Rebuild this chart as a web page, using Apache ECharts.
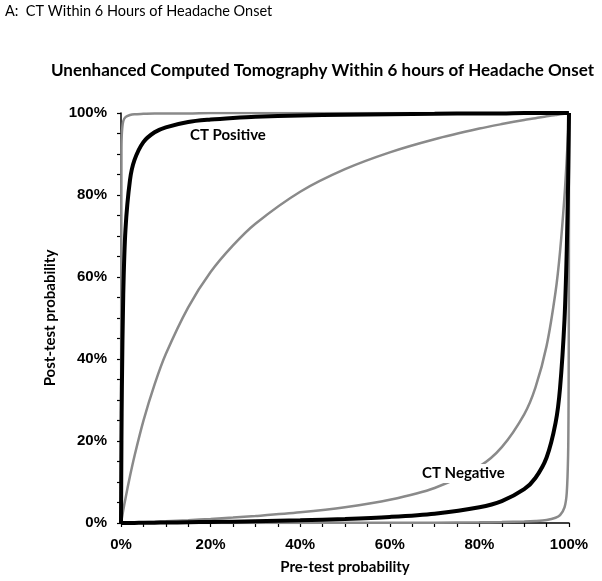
<!DOCTYPE html>
<html><head><meta charset="utf-8">
<script src="https://cdn.jsdelivr.net/npm/echarts@6/dist/echarts.min.js"></script>
<style>html,body{margin:0;padding:0;background:#fff}#c{width:602px;height:581px}</style>
</head><body><div id="c"></div>
<script>
// Pre-test probability (%) sample points
const preTest = [0, 0.1, 0.2, 0.5, 1, 2, 3, 5, 7.5, 10, 15, 20, 25, 30, 40, 50, 60, 70, 80, 85, 90, 92.5, 95, 97, 98, 99, 99.5, 99.8, 99.9, 99.95, 99.98, 100];
// Post-test probability (%)
const posUpperGray = [0, 90.9, 95.2, 98.0, 99.0, 99.5, 99.7, 99.8, 99.9, 99.9, 99.9, 100, 100, 100, 100, 100, 100, 100, 100, 100, 100, 100, 100, 100, 100, 100, 100, 100, 100, 100, 100, 100];
const ctPositive = [0, 20.0, 33.4, 55.7, 71.6, 83.6, 88.5, 92.9, 95.3, 96.5, 97.8, 98.4, 98.8, 99.1, 99.4, 99.6, 99.7, 99.8, 99.9, 99.9, 100, 100, 100, 100, 100, 100, 100, 100, 100, 100, 100, 100];
const posLowerGray = [0, 0.6, 1.2, 3.1, 6.0, 11.4, 16.3, 24.9, 33.8, 41.2, 52.6, 61.2, 67.7, 73.0, 80.8, 86.3, 90.4, 93.6, 96.2, 97.3, 98.3, 98.7, 99.2, 99.5, 99.7, 99.8, 99.9, 100, 100, 100, 100, 100];
const ctNegative = [0, 0, 0, 0.01, 0.01, 0.02, 0.03, 0.05, 0.08, 0.11, 0.18, 0.25, 0.33, 0.43, 0.66, 0.99, 1.48, 2.28, 3.85, 5.36, 8.26, 10.98, 15.97, 24.4, 32.9, 49.7, 66.6, 83.3, 90.9, 95.2, 98.0, 100];
const negUpperGray = [0, 0, 0.01, 0.02, 0.04, 0.08, 0.12, 0.21, 0.32, 0.44, 0.70, 0.99, 1.32, 1.69, 2.60, 3.85, 5.66, 8.54, 13.8, 18.5, 26.5, 33.0, 43.2, 56.4, 66.2, 79.8, 88.8, 95.2, 97.6, 98.8, 99.5, 100];
const negLowerGray = [0, 0, 0, 0, 0, 0, 0, 0, 0, 0, 0, 0.01, 0.01, 0.02, 0.03, 0.04, 0.06, 0.09, 0.16, 0.23, 0.36, 0.49, 0.75, 1.28, 1.92, 3.81, 7.37, 16.6, 28.6, 44.4, 66.7, 100];
const tickLabels = [0, 20, 40, 60, 80, 100];

const pairs = arr => preTest.map((x, i) => [x, arr[i]]);
const gray = '#8a8a8a';
const tickFmt = v => tickLabels.indexOf(v) >= 0 ? v + '%' : '';
const calibri = 'Lato, "Open Sans", sans-serif';
const axisCommon = {
  type: 'value', min: 0, max: 100, interval: 5,
  splitLine: { show: false },
  axisLine: { show: true, lineStyle: { color: '#000', width: 1.5 } },
  axisTick: { show: true, length: 4, lineStyle: { color: '#000', width: 1.2 } },
  axisLabel: { formatter: tickFmt, color: '#000', fontFamily: '"Liberation Sans", Arial, sans-serif', fontWeight: 'bold', fontSize: 15, showMinLabel: true, showMaxLabel: true },
  nameTextStyle: { color: '#000', fontFamily: calibri, fontWeight: 'bold', fontSize: 15 }
};
const line = (name, arr, color, w) => ({ name, type: 'line', data: pairs(arr), symbol: 'none', clip: true,
  smooth: 0.3,
  lineStyle: { color, width: w }, itemStyle: { color }, z: color === '#000' ? 3 : 2 });

const chart = echarts.init(document.getElementById('c'), null, { renderer: 'canvas' });
chart.setOption({
  animation: false,
  backgroundColor: '#fff',
  grid: { left: 121, right: 33, top: 113, bottom: 58 },
  xAxis: Object.assign({}, axisCommon, { name: 'Pre-test probability', nameLocation: 'middle', nameGap: 37,
    axisLabel: Object.assign({}, axisCommon.axisLabel, { margin: 14 }) }),
  yAxis: Object.assign({}, axisCommon, { name: 'Post-test probability', nameLocation: 'middle', nameGap: 56,
    axisLabel: Object.assign({}, axisCommon.axisLabel, { margin: 14 }) }),
  series: [
    line('posUpper', posUpperGray, gray, 2.5),
    line('posLower', posLowerGray, gray, 2.5),
    line('negUpper', negUpperGray, gray, 2.5),
    line('negLower', negLowerGray, gray, 2.5),
    line('CT Positive', ctPositive, '#000', 4),
    line('CT Negative', ctNegative, '#000', 4)
  ],
  graphic: [
    { type: 'text', left: 5, top: 4, style: { text: 'A:  CT Within 6 Hours of Headache Onset', fill: '#000', font: '14.5px ' + calibri } },
    { type: 'text', left: 51, top: 62, style: { text: 'Unenhanced Computed Tomography Within 6 hours of Headache Onset', fill: '#000', font: 'bold 17px ' + calibri } },
    { type: 'text', left: 190, top: 128, z: 10, style: { text: 'CT Positive', fill: '#000', font: 'bold 15px ' + calibri } },
    { type: 'text', left: 419, top: 464, z: 10, style: { text: 'CT Negative', fill: '#000', font: 'bold 15px ' + calibri, backgroundColor: '#fff', padding: [2, 3] } }
  ]
});
</script></body></html>
